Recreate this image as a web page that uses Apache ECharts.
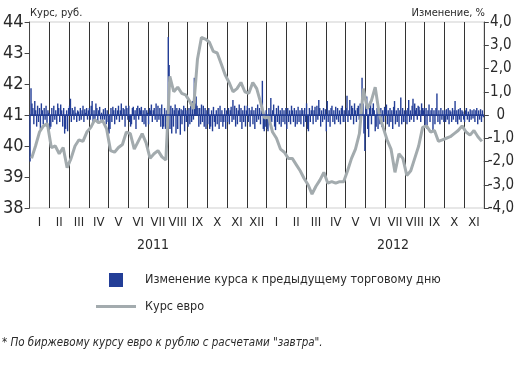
<!DOCTYPE html>
<html><head><meta charset="utf-8">
<script src="https://cdn.jsdelivr.net/npm/echarts@6/dist/echarts.min.js"></script>
<style>html,body{margin:0;padding:0;background:#fff}#c{width:517px;height:373px}</style>
</head><body><div id="c"></div>
<script>
// Month labels (Jan 2011 .. Nov 2012)
const months = ['I','II','III','IV','V','VI','VII','VIII','IX','X','XI','XII',
                'I','II','III','IV','V','VI','VII','VIII','IX','X','XI'];
const years = ['2011', '2012'];
const barName = 'Изменение курса к предыдущему торговому дню';
const lineName = 'Курс евро';

// Daily change, % (one array per month)
const change = [
  [-2.0, 1.15, 0.5, 0.3, -0.4, 0.6, 0.2, -0.5, 0.4, -0.3, 0.3, -0.6, 0.5, 0.2, -0.4, 0.3, -0.2, 0.4, -0.5, 0.2, 0.1],
  [-0.6, -0.5, 0.3, -0.3, 0.4, -0.2, 0.2, -0.4, 0.5, 0.3, -0.3, 0.45, 0.2, -0.5, 0.3, -0.8, -0.6, 0.2, -0.7, 0.3],
  [0.4, 0.7, -0.3, 0.3, 0.2, -0.2, 0.35, 0.1, -0.3, 0.2, 0.15, -0.25, 0.3, -0.2, 0.2, 0.4, -0.3, 0.25, 0.1, 0.3, -0.2, 0.2],
  [0.3, -0.2, 0.4, 0.6, -0.3, 0.2, -0.25, 0.5, 0.3, -0.3, 0.2, 0.35, -0.2, 0.1, -0.3, 0.25, -0.2, 0.3, -0.4, 0.2, -0.3],
  [-0.8, -0.6, 0.3, -0.3, 0.35, 0.2, -0.4, 0.3, -0.2, 0.2, 0.4, -0.3, 0.2, 0.5, -0.2, 0.3, 0.25, -0.5, 0.4, 0.3, -0.2],
  [0.4, -0.3, -0.5, -0.4, 0.3, 0.35, -0.2, 0.2, -0.6, 0.3, 0.4, -0.2, 0.3, 0.2, 0.35, -0.3, 0.2, -0.4, 0.3, -0.5, 0.2, 0.1],
  [-0.4, 0.3, 0.2, 0.45, -0.3, 0.2, 0.3, -0.2, 0.5, -0.3, 0.4, -0.2, 0.3, -0.5, 0.45, -0.6, -0.5, 0.3, -0.6, 0.2, -0.3],
  [3.35, 2.15, -0.6, 0.4, -0.8, 0.3, -0.5, 0.2, 0.45, -0.8, 0.3, -0.6, 0.2, 0.3, -0.85, 0.25, -0.4, 0.2, 0.4, -0.7, 0.3, -0.3, 0.2],
  [-0.5, 0.3, -0.4, 0.4, -0.3, 0.6, -0.2, 1.6, 0.5, 0.8, 0.4, 0.3, -0.5, 0.3, -0.4, 0.45, -0.3, 0.4, -0.5, 0.3, -0.6, 0.2],
  [-0.4, 0.3, -0.6, -0.5, 0.2, -0.7, 0.35, -0.3, -0.5, 0.2, -0.4, 0.3, -0.6, 0.4, -0.3, 0.2, -0.5, -0.3, 0.3, -0.6, 0.2],
  [-0.3, 0.3, -0.4, 0.2, 0.35, -0.3, 0.65, -0.2, 0.4, -0.5, 0.3, -0.4, 0.2, 0.45, -0.3, 0.3, -0.6, 0.2, -0.3, 0.4, -0.5, 0.2],
  [0.4, -0.3, 0.3, -0.5, 0.2, 0.35, -0.4, 0.2, -0.6, 0.3, -0.3, 0.45, -0.2, 0.3, -0.4, 0.2, 1.47, -0.6, -0.7, -0.5, 0.2],
  [-0.6, -0.7, 0.3, -0.4, 0.73, -0.3, 0.2, 0.45, -0.5, -0.65, 0.3, -0.3, 0.4, -0.4, 0.2, -0.5, 0.3, -0.3, 0.2, -0.4, 0.3],
  [-0.6, 0.3, -0.3, 0.2, -0.4, 0.4, 0.2, -0.3, 0.3, -0.5, 0.2, -0.4, 0.35, -0.3, 0.2, -0.4, 0.3, 0.2, -0.5, 0.3, -0.3],
  [0.5, -0.6, -0.7, 0.3, -0.3, 0.2, 0.4, -0.4, 0.2, 0.35, -0.3, 0.4, -0.2, 0.65, 0.3, -0.5, 0.2, -0.3, 0.3, -0.2, 0.25],
  [-0.7, 0.6, -0.3, 0.2, -0.5, 0.3, 0.4, -0.3, 0.2, -0.4, 0.35, -0.2, 0.3, -0.3, 0.2, -0.4, 0.3, 0.4, -0.3, 0.2, -0.3],
  [0.3, 0.83, -0.3, 0.2, 0.65, -0.2, 0.4, 0.3, -0.4, 0.5, 0.2, -0.3, 0.3, 0.4, -0.2, 0.5, 0.3, 1.6, 0.5, -0.8, -1.55],
  [0.4, 0.8, -0.6, -0.95, 0.3, 0.6, -0.4, 0.3, 0.5, 0.2, -0.7, -0.5, 0.3, -0.6, 0.2, -0.4, 0.3, -0.5, 0.2, -0.3, 0.35],
  [0.3, 0.45, -0.4, 0.2, -0.5, 0.3, -0.3, 0.2, -0.6, 0.35, 0.6, -0.4, 0.2, -0.3, 0.3, -0.5, 0.2, 0.75, -0.4, 0.3, -0.3, 0.2],
  [-0.3, 0.2, -0.4, 0.3, 0.65, -0.3, 0.2, -0.2, 0.4, 0.7, -0.3, 0.5, 0.2, 0.3, -0.2, 0.4, 0.35, 0.2, -0.3, 0.5, 0.3, 0.2, 0.3],
  [-0.5, 0.3, -0.6, 0.2, 0.45, -0.3, 0.2, 0.3, -0.7, 0.2, -0.4, 0.3, 0.92, -0.3, 0.2, -0.4, 0.3, -0.2, 0.2, -0.3],
  [0.2, -0.3, 0.25, -0.2, 0.3, -0.4, 0.2, 0.15, -0.3, 0.3, -0.2, 0.2, 0.6, -0.3, 0.2, -0.4, 0.25, -0.2, 0.3, -0.3, 0.2, 0.15, -0.2],
  [-0.3, 0.2, 0.3, -0.2, 0.15, -0.3, 0.25, -0.2, 0.2, -0.15, 0.25, -0.3, 0.2, 0.3, -0.4, 0.2, -0.2, 0.25, -0.3, 0.2, -0.1]
];

// Euro rate, rub. (samples through each month)
const rate = [
  [39.6, 40.0, 40.45, 40.65, 40.72],
  [39.95, 40.0, 39.75, 39.95, 39.3],
  [39.6, 40.0, 40.2, 40.15, 40.45],
  [40.6, 40.85, 40.75, 40.82, 40.55],
  [39.85, 39.8, 39.95, 40.05, 40.45],
  [40.4, 39.9, 40.15, 40.4, 40.1],
  [39.6, 39.75, 39.85, 39.65, 39.55],
  [42.25, 41.75, 41.9, 41.7, 41.65],
  [41.45, 41.2, 42.8, 43.5, 43.45],
  [43.35, 43.05, 43.0, 42.65, 42.3],
  [42.05, 41.75, 41.85, 42.05, 41.75],
  [41.7, 42.05, 41.85, 41.4, 40.9],
  [40.95, 40.45, 40.25, 39.9, 39.8],
  [39.6, 39.6, 39.4, 39.2, 38.95],
  [38.75, 38.45, 38.7, 38.9, 39.15],
  [38.8, 38.85, 38.8, 38.85, 38.85],
  [39.2, 39.6, 39.9, 40.4, 41.85],
  [41.2, 41.45, 41.9, 41.05, 40.6],
  [40.2, 39.9, 39.15, 39.75, 39.6],
  [39.05, 39.2, 39.6, 40.0, 40.6],
  [40.65, 40.45, 40.5, 40.15, 40.2],
  [40.25, 40.3, 40.4, 40.5, 40.65],
  [40.45, 40.35, 40.5, 40.3, 40.15]
];

const FONT = "'DejaVu Sans Condensed', 'Liberation Sans', sans-serif";
const TXT = '#2a2a2a';

const barData = [];
change.forEach((arr, m) => arr.forEach((v, i) => barData.push([m + (i + 0.5) / arr.length, v])));
const lineData = [];
rate.forEach((arr, m) => arr.forEach((v, i) => lineData.push([m + (i + 0.5) / arr.length, v])));

const chart = echarts.init(document.getElementById('c'), null, {renderer: 'canvas'});
chart.setOption({
  animation: false,
  backgroundColor: '#fff',
  grid: {left: 29, right: 29, top: 22, bottom: 165, show: true, borderColor: '#cfcfcf', borderWidth: 1},
  legend: {
    orient: 'vertical', left: 96, top: 273, padding: 0, itemWidth: 40, itemHeight: 14, itemGap: 13,
    symbolKeepAspect: true,
    textStyle: {fontFamily: FONT, fontSize: 12.5, color: TXT, padding: [0, 0, 0, 4]},
    data: [{name: barName, icon: 'path://M0,0H14V14H0Z'},
           {name: lineName, icon: 'path://M0,0H40V3H0Z'}]
  },
  xAxis: [
    {type: 'value', min: 0, max: 23, interval: 1, position: 'bottom',
     axisLine: {show: true, lineStyle: {color: '#333', width: 1}},
     axisTick: {show: false}, axisLabel: {show: false},
     splitLine: {show: true, lineStyle: {color: '#333', width: 1}}},
    {type: 'category', data: months, position: 'bottom', offset: 0,
     axisLine: {show: false}, axisTick: {show: false}, splitLine: {show: false},
     axisLabel: {interval: 0, fontFamily: FONT, fontSize: 13, color: TXT, margin: 8}}
  ],
  yAxis: [
    {type: 'value', min: 38, max: 44, interval: 1, position: 'left',
     axisLine: {show: true, lineStyle: {color: '#444'}},
     axisTick: {show: true, length: 5, lineStyle: {color: '#444'}},
     splitLine: {show: false},
     axisLabel: {fontFamily: FONT, fontSize: 18, color: TXT, margin: 6}},
    {type: 'value', min: -4, max: 4, interval: 1, position: 'right',
     axisLine: {show: true, lineStyle: {color: '#444'}},
     axisTick: {show: true, length: 5, lineStyle: {color: '#444'}},
     splitLine: {show: false},
     axisLabel: {fontFamily: FONT, fontSize: 15, color: TXT, margin: 17, align: 'center',
       formatter: v => v === 0 ? '0' : v.toFixed(1).replace('.', ',')}}
  ],
  series: [
    {name: barName, type: 'bar', xAxisIndex: 0, yAxisIndex: 1, data: barData, barWidth: 1.4,
     itemStyle: {color: '#233e97'}, z: 2,
     markLine: {silent: true, symbol: 'none', label: {show: false},
       lineStyle: {color: '#233e97', width: 1.5, type: 'solid'}, data: [{yAxis: 0}]}},
    {name: lineName, type: 'line', xAxisIndex: 0, yAxisIndex: 0, data: lineData, symbol: 'none',
     lineStyle: {color: '#a3abae', width: 3}, itemStyle: {color: '#a3abae'}, z: 3}
  ],
  graphic: [
    {type: 'text', left: 30, top: 8, style: {text: 'Курс, руб.', font: "11px " + FONT, fill: TXT}},
    {type: 'text', right: 32, top: 8, style: {text: 'Изменение, %', font: "11px " + FONT, fill: TXT}},
    {type: 'text', x: 153, y: 245, style: {text: years[0], font: "14px " + FONT, fill: TXT, textAlign: 'center', textVerticalAlign: 'middle'}},
    {type: 'text', x: 393, y: 245, style: {text: years[1], font: "14px " + FONT, fill: TXT, textAlign: 'center', textVerticalAlign: 'middle'}},
    {type: 'text', x: 2, y: 343, style: {text: '* По биржевому курсу евро к рублю с расчетами "завтра".', font: "italic 11.5px " + FONT, fill: TXT, textVerticalAlign: 'middle'}}
  ]
});
</script>
</body></html>
